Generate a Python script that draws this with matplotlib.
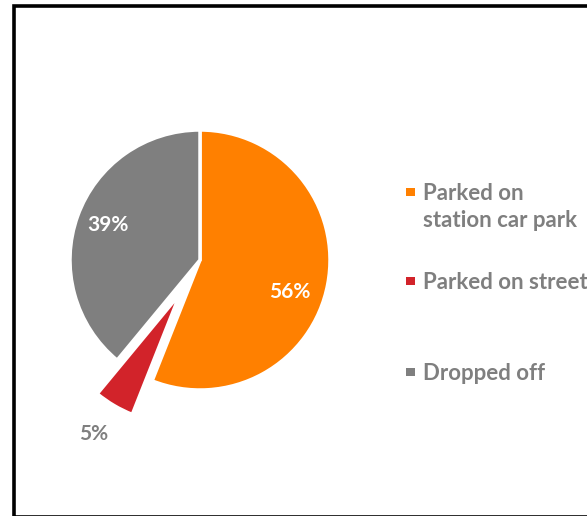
import matplotlib
matplotlib.use("Agg")
import matplotlib.pyplot as plt
from matplotlib.patches import Rectangle
import numpy as np

categories = ["Parked on\nstation car park", "Parked on street", "Dropped off"]
values = [56, 5, 39]
pct_labels = ["56%", "5%", "39%"]
colors = ["#FF8000", "#D2232A", "#7F7F7F"]
explode = [0, 0.3, 0]

W, H = 587, 516
fig = plt.figure(figsize=(W / 100, H / 100), dpi=100)
fig.patch.set_facecolor("white")

# outer frame
fig.patches.append(Rectangle((13.5 / W, 1 - 516.6 / H), 600 / W, (516.6 - 5.5) / H,
                             transform=fig.transFigure, fill=False,
                             edgecolor="black", linewidth=2.6))

R = 130.0
cx, cy = 200, 260
L = 1.5
side = 2 * L * R
ax = fig.add_axes([(cx - side / 2) / W, (H - cy - side / 2) / H, side / W, side / H])
wedges, _ = ax.pie(values, colors=colors, explode=explode, startangle=90,
                   counterclock=False, radius=1,
                   wedgeprops=dict(edgecolor="white", linewidth=2.5))
ax.set_xlim(-L, L)
ax.set_ylim(-L, L)
ax.set_aspect("equal")
ax.axis("off")

font = ["Lato", "DejaVu Sans"]
# label placement (distance, angle offset deg, color)
place = [(0.73, -9, "white"), (1.27, -1, "#7F7F7F"), (0.76, -1, "white")]
for w, lab, (d, off, col) in zip(wedges, pct_labels, place):
    mid = np.deg2rad((w.theta1 + w.theta2) / 2 + off)
    cxw, cyw = w.center
    ax.text(cxw + d * np.cos(mid), cyw + d * np.sin(mid), lab, ha="center", va="center",
            color=col, fontsize=15, fontweight="bold", family=font)

# legend
leg_base = [227, 289, 380]     # baseline of last text line (px from top)
leg_mark = [192, 281, 372]     # marker centre (px from top)
for lab, col, yb, ym in zip(categories, colors, leg_base, leg_mark):
    fig.patches.append(Rectangle((406 / W, 1 - (ym + 4.25) / H), 8.5 / W, 8.5 / H,
                                 transform=fig.transFigure, facecolor=col, edgecolor="none"))
    fig.text(423 / W, 1 - yb / H, lab, ha="left", va="baseline", color="#7F7F7F",
             fontsize=16, fontweight="bold", family=font, linespacing=1.33)

fig.savefig("out.png", dpi=100, facecolor="white")
